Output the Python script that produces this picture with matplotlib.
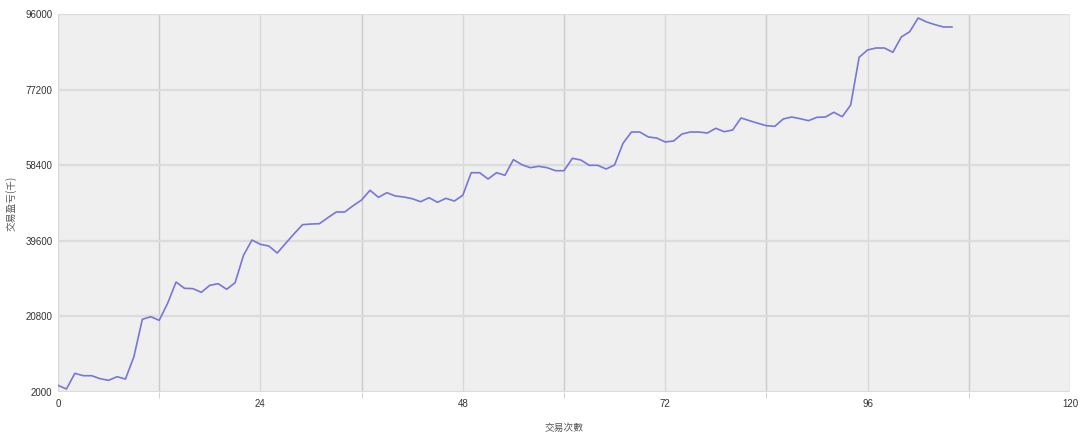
import matplotlib
matplotlib.use("Agg")
import matplotlib.pyplot as plt
from matplotlib.ticker import MultipleLocator

plt.rcParams['font.family'] = ['Liberation Sans', 'Noto Sans CJK SC', 'DejaVu Sans']

# trade-by-trade cumulative P&L
pnl = [3660, 2740, 6640, 6050, 6050, 5300, 4900, 5800, 5220, 10770,
       20070, 20720, 19820, 24050, 29350, 27780, 27700, 26790, 28530, 28930,
       27530, 29180, 35990, 39790, 38720, 38300, 36560, 38970, 41360, 43600,
       43770, 43850, 45340, 46760, 46760, 48330, 49740, 52150, 50410, 51560,
       50740, 50490, 50070, 49320, 50320, 49170, 50160, 49490, 50910, 56530,
       56530, 54960, 56530, 55880, 59770, 58530, 57780, 58120, 57780, 57030,
       57030, 60110, 59690, 58370, 58370, 57450, 58450, 63840, 66650, 66650,
       65410, 65160, 64170, 64420, 66160, 66650, 66650, 66400, 67570, 66730,
       67150, 70140, 69470, 68820, 68220, 68070, 69890, 70380, 69960, 69470,
       70310, 70380, 71550, 70460, 73370, 85230, 87050, 87540, 87540, 86470,
       90280, 91600, 95000, 94010, 93340, 92770, 92770]
trades = list(range(len(pnl)))

x_ticks = [0, 24, 48, 72, 96, 120]
y_ticks = [2000, 20800, 39600, 58400, 77200, 96000]

fig = plt.figure(figsize=(10.8, 4.37), dpi=100)
ax = fig.add_axes([0.0537, 0.103, 0.937, 0.865])
ax.set_facecolor('#efefef')

ax.plot(trades, pnl, color='#7676dc', linewidth=1.2, zorder=3)

ax.set_xlim(0, 120)
ax.set_ylim(2000, 96000)
ax.set_xticks(x_ticks)
ax.set_yticks(y_ticks)
ax.xaxis.set_minor_locator(MultipleLocator(12))

ax.grid(which='major', axis='y', color='#dcdcdc', linewidth=1.6)
ax.grid(which='major', axis='x', color='#d8d8d8', linewidth=1.0)
ax.grid(which='minor', axis='x', color='#cbcbcb', linewidth=1.0)

for s in ax.spines.values():
    s.set_visible(False)

ax.tick_params(axis='both', which='major', length=0, labelsize=7, colors='#333333', pad=5)
ax.tick_params(axis='x', which='minor', length=4, color='#cbcbcb')
ax.tick_params(axis='y', pad=4)

ax.set_xlabel('交易次數', fontsize=7, color='#555555', labelpad=10,
              family=['Noto Sans CJK SC', 'DejaVu Sans'])
ax.set_ylabel('交易盈亏(千)', fontsize=7, color='#555555',
              family=['Noto Sans CJK SC', 'DejaVu Sans'])
ax.yaxis.set_label_coords(-0.041, 0.5)

fig.savefig('out.png', dpi=100)
